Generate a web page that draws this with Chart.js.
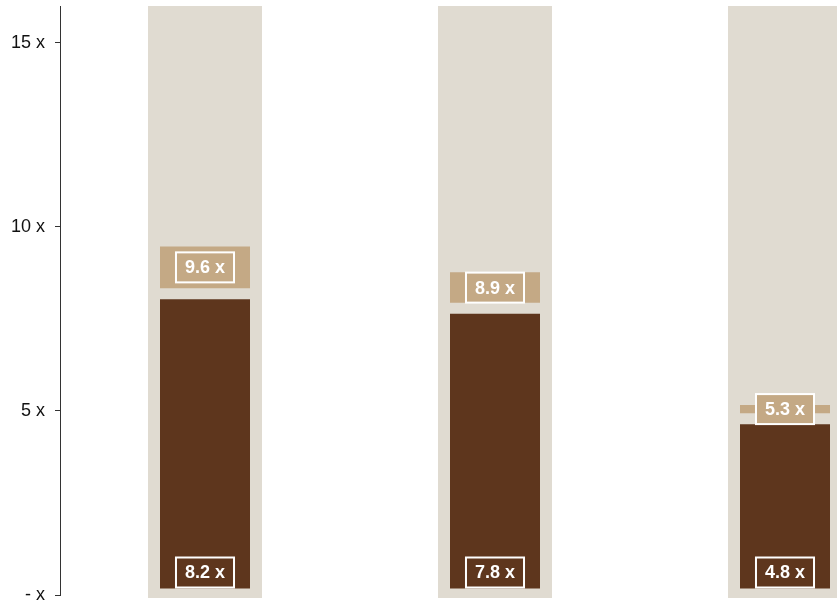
<!DOCTYPE html>
<html>
<head>
<meta charset="utf-8">
<script src="https://cdn.jsdelivr.net/npm/chart.js@4/dist/chart.umd.min.js"></script>
<style>
  html, body { margin: 0; padding: 0; background: #fff; overflow: hidden; }
  #wrap { position: relative; width: 930px; height: 607px; }
</style>
</head>
<body>
<div id="wrap"><canvas id="chart"></canvas></div>
<script>
// data
const categories = ['Group 1', 'Group 2', 'Group 3'];
const actualValues = [8.2, 7.8, 4.8];
const targetValues = [9.6, 8.9, 5.3];
const yTicks = [0, 5, 10, 15];
const axisMax = 16;

const BG = '#e0dbd1';
const DARK = '#5e361d';
const TAN = '#c4a985';

// label boxes drawn on top of the bars
const boxLabels = {
  id: 'boxLabels',
  afterDatasetsDraw(chart) {
    const ctx = chart.ctx;
    ctx.save();
    ctx.font = 'bold 18px "Liberation Sans", Arial, sans-serif';
    ctx.textAlign = 'center';
    ctx.textBaseline = 'middle';
    const drawBox = (x, cy, text, fill) => {
      const w = ctx.measureText(text).width + 18;
      const h = 30;
      ctx.fillStyle = fill;
      ctx.fillRect(x - w / 2, cy - h / 2, w, h);
      ctx.strokeStyle = '#fff';
      ctx.lineWidth = 2;
      ctx.strokeRect(x - w / 2, cy - h / 2, w, h);
      ctx.fillStyle = '#fff';
      ctx.fillText(text, x, cy + 1);
    };
    const tanMeta = chart.getDatasetMeta(1);
    const darkMeta = chart.getDatasetMeta(0);
    tanMeta.data.forEach((bar, i) => {
      drawBox(bar.x, (bar.y + bar.base) / 2, targetValues[i].toFixed(1) + ' x', TAN);
    });
    darkMeta.data.forEach((bar, i) => {
      drawBox(bar.x, bar.base - 22, actualValues[i].toFixed(1) + ' x', DARK);
    });
    ctx.restore();
  }
};

new Chart(document.getElementById('chart'), {
  type: 'bar',
  data: {
    labels: categories,
    datasets: [
      {
        label: 'Actual',
        data: actualValues.map(v => [0, v]),
        backgroundColor: DARK,
        borderColor: BG,
        borderWidth: { top: 6, bottom: 6, left: 0, right: 0 },
        borderSkipped: false,
        barPercentage: 90 / 290,
        categoryPercentage: 1,
        order: 2
      },
      {
        label: 'Target',
        data: actualValues.map((v, i) => [v, targetValues[i]]),
        backgroundColor: TAN,
        borderColor: BG,
        borderWidth: { top: 5, bottom: 5, left: 0, right: 0 },
        borderSkipped: false,
        barPercentage: 90 / 290,
        categoryPercentage: 1,
        order: 1
      },
      {
        label: 'Range',
        data: categories.map(() => [-0.08, axisMax]),
        backgroundColor: BG,
        borderWidth: 0,
        barPercentage: 114 / 290,
        categoryPercentage: 1,
        clip: false,
        order: 3
      }
    ]
  },
  options: {
    responsive: true,
    maintainAspectRatio: false,
    animation: false,
    layout: { padding: { top: 6, bottom: 12, left: 0, right: 0 } },
    plugins: { legend: { display: false }, tooltip: { enabled: false } },
    scales: {
      x: { display: false },
      y: {
        min: 0,
        max: axisMax,
        afterBuildTicks: axis => { axis.ticks = yTicks.map(v => ({ value: v })); },
        afterFit: axis => {
          axis.width = 60;
          axis.paddingTop = 0;
          axis.paddingBottom = 0;
        },
        border: { display: true, color: '#333', width: 1 },
        grid: { drawOnChartArea: false, drawTicks: true, tickLength: 5, color: '#333' },
        ticks: {
          padding: 10,
          color: '#111',
          font: { family: 'Arial, "Liberation Sans", sans-serif', size: 18 },
          callback: v => v === 0 ? '- x' : v + ' x'
        }
      }
    },
    datasets: { bar: { grouped: false } }
  },
  plugins: [boxLabels]
});
</script>
</body>
</html>
